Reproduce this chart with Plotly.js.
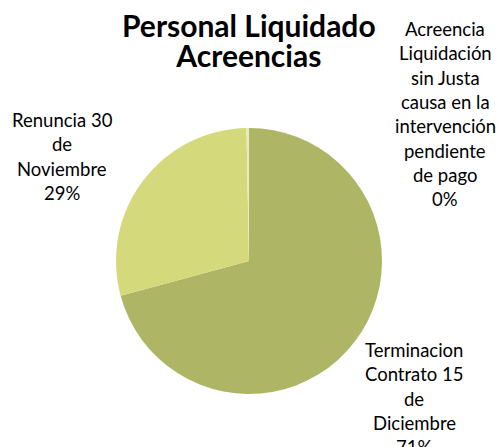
<!DOCTYPE html>
<html>
<head>
<meta charset="utf-8">
<script src="https://cdn.plot.ly/plotly-3.0.1.min.js"></script>
<style>html,body{margin:0;padding:0;background:#fff;}#chart{width:501px;height:447px;}</style>
</head>
<body>
<div id="chart"></div>
<script>
// Data
const categories = [
  "Terminacion Contrato 15 de Diciembre",
  "Renuncia 30 de Noviembre",
  "Acreencia Liquidación sin Justa causa en la intervención pendiente de pago"
];
const values = [71, 29, 0.3];
const labelLines = [
  ["Terminacion", "Contrato 15", "de", "Diciembre"],
  ["Renuncia 30", "de", "Noviembre"],
  ["Acreencia", "Liquidación", "sin Justa", "causa en la", "intervención", "pendiente", "de pago"]
];
const sliceColors = ["#AEB565", "#D4DA7C", "#E9ECBF"];
const titleLines = ["Personal Liquidado", "Acreencias"];

// Layout helpers (positions in pixels)
const W = 501, H = 447;
const labelPos = [
  {x: 414, y0: 358},
  {x: 62, y0: 128},
  {x: 445, y0: 37}
];
const lineGap = 24.3;
const fontSize = 18.5;

const total = values.reduce((a, b) => a + b, 0);
const annotations = [];
labelLines.forEach((lines, i) => {
  const pct = Math.round(values[i] / total * 100) + "%";
  const all = lines.concat([pct]);
  all.forEach((t, k) => {
    const baseline = labelPos[i].y0 + k * lineGap;
    annotations.push({
      text: t, showarrow: false, xref: "paper", yref: "paper",
      x: labelPos[i].x / W, y: 1 - baseline / H,
      xanchor: "center", yanchor: "bottom", yshift: -5,
      font: {family: "Lato, sans-serif", size: fontSize, color: "#000"}
    });
  });
});
// Title: one text block, line gap from base size 23 (≈30px), glyphs at 30px
annotations.push({
  text: titleLines.map(t => '<span style="font-size:30px"><b>' + t + '</b></span>').join("<br>"),
  showarrow: false, xref: "paper", yref: "paper",
  x: 249 / W, y: 1 - 40 / H,
  xanchor: "center", yanchor: "middle",
  font: {family: "Lato, sans-serif", size: 23, color: "#000"}
});

const cx = 249, cy = 261, r = 133;
const data = [{
  type: "pie",
  labels: categories,
  values: values,
  sort: false,
  direction: "clockwise",
  rotation: 0,
  textinfo: "none",
  hoverinfo: "label+percent",
  marker: {colors: sliceColors, line: {width: 0}},
  domain: {x: [(cx - r) / W, (cx + r) / W], y: [1 - (cy + r) / H, 1 - (cy - r) / H]},
  showlegend: false
}];

const layout = {
  width: W, height: H,
  margin: {l: 0, r: 0, t: 0, b: 0},
  paper_bgcolor: "#fff",
  plot_bgcolor: "#fff",
  showlegend: false,
  annotations: annotations
};

Plotly.newPlot("chart", data, layout, {staticPlot: true});
</script>
</body>
</html>
